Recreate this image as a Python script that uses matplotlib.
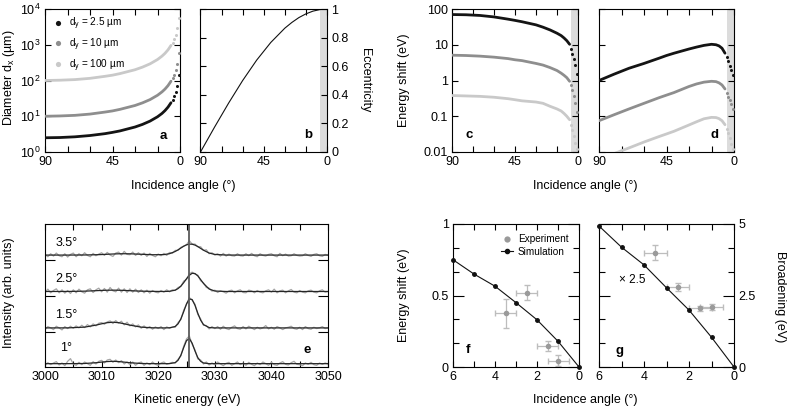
import numpy as np
import matplotlib
matplotlib.use('Agg')
import matplotlib.pyplot as plt
from matplotlib.lines import Line2D
from matplotlib.ticker import MultipleLocator, NullLocator, NullFormatter

plt.rcParams['font.family'] = ['Liberation Sans', 'DejaVu Sans']
plt.rcParams['font.size'] = 9
plt.rcParams['mathtext.fontset'] = 'custom'
plt.rcParams['mathtext.rm'] = 'Liberation Sans'
plt.rcParams['mathtext.it'] = 'Liberation Sans:italic'
plt.rcParams['axes.linewidth'] = 0.8

# ---- panel a-d: angle dependence (dense part + sparse dots near grazing) ----
ANG_DENSE = [90, 80, 70, 60, 50, 45, 40, 30, 25, 20, 15, 12, 10, 8, 6]
ANG_SPARSE = [5, 4, 3, 2, 1]

# a: diameter d_x (um)
DX_25 = [2.5, 2.54, 2.66, 2.89, 3.26, 3.54, 3.89, 5.0, 5.92, 7.31, 9.66, 12.0, 14.4, 18.0, 23.9]
DX_25_END = [28.7, 35.8, 47.8, 71.6, 143]
DX_10 = [10, 10.2, 10.6, 11.5, 13.1, 14.1, 15.6, 20, 23.7, 29.2, 38.6, 48.1, 57.6, 71.9, 95.7]
DX_10_END = [115, 143, 191, 287, 573]
DX_100 = [100, 102, 106, 115, 131, 141, 156, 200, 237, 292, 386, 481, 576, 719, 957]
DX_100_END = [1150, 1430, 1910, 2870, 5730]

# b: eccentricity
ECC_ANG = [90, 80, 70, 60, 50, 40, 30, 25, 20, 15, 10, 5, 0]
ECC = [0, 0.174, 0.342, 0.5, 0.643, 0.766, 0.866, 0.906, 0.94, 0.966, 0.985, 0.996, 1.0]

# c: energy shift (eV)
C_25 = [70, 69, 66, 60, 52, 48, 44, 36, 31, 26, 21, 18, 15.5, 13, 10.3]
C_25_END = [7.5, 5.5, 4.0, 2.8, 1.5]
C_10 = [5.1, 5.0, 4.8, 4.5, 4.1, 3.8, 3.6, 3.0, 2.7, 2.3, 1.9, 1.6, 1.4, 1.2, 0.95]
C_10_END = [0.75, 0.55, 0.38, 0.24, 0.13]
C_100 = [0.38, 0.37, 0.36, 0.34, 0.31, 0.29, 0.27, 0.25, 0.23, 0.19, 0.16, 0.14, 0.12, 0.10, 0.08]
C_100_END = [0.058, 0.04, 0.028, 0.018, 0.012]

# d: energy shift (eV), second case
D_25 = [1.0, 1.5, 2.2, 3.0, 4.2, 5.0, 5.8, 7.6, 8.6, 9.6, 10.3, 10.0, 9.3, 8.0, 5.8]
D_25_END = [4.5, 3.5, 2.6, 2.0, 1.4]
D_10 = [0.075, 0.11, 0.16, 0.23, 0.33, 0.39, 0.46, 0.68, 0.80, 0.90, 0.95, 0.93, 0.86, 0.75, 0.58]
D_10_END = [0.45, 0.35, 0.28, 0.22, 0.16]
D_100 = [0.006, 0.009, 0.013, 0.019, 0.027, 0.032, 0.038, 0.057, 0.07, 0.085, 0.093, 0.092, 0.086, 0.075, 0.058]
D_100_END = [0.045, 0.033, 0.024, 0.017, 0.012]

SERIES_LABELS = ['d$_\\mathrm{y}$ = 2.5 µm', 'd$_\\mathrm{y}$ = 10 µm', 'd$_\\mathrm{y}$ = 100 µm']
COLORS = ['#141414', '#8e8e8e', '#c9c9c9']
SHADE_MAX = 4.7

# ---- panel e: spectra (0.5 eV steps) ----
E_DATA = np.arange(3000, 3050.01, 0.5)
SPEC_1 = [0.07, 0.15, 0.09, 0.14, 0.18, 0.08, 0.14, 0.06, 0.19, 0.27,
          0.11, 0.07, 0.16, 0.09, 0.17, 0.12, 0.07, 0.18, 0.11, 0.19,
          0.22, 0.14, 0.23, 0.25, 0.16, 0.23, 0.15, 0.21, 0.11, 0.17,
          0.09, 0.17, 0.07, 0.14, 0.17, 0.07, 0.14, 0.09, 0.17, 0.10,
          0.07, 0.14, 0.17, 0.10, 0.13, 0.16, 0.14, 0.25, 0.35, 0.64,
          0.86, 0.95, 0.70, 0.53, 0.26, 0.23, 0.11, 0.17, 0.08, 0.14,
          0.09, 0.17, 0.11, 0.06, 0.13, 0.16, 0.07, 0.12, 0.17, 0.09,
          0.14, 0.07, 0.16, 0.10, 0.06, 0.14, 0.09, 0.17, 0.12, 0.07,
          0.16, 0.09, 0.07, 0.14, 0.18, 0.10, 0.08, 0.15, 0.19, 0.10,
          0.09, 0.06, 0.14, 0.10, 0.16, 0.09, 0.07, 0.14, 0.10, 0.14,
          0.11]
SPEC_15 = [0.07, 0.16, 0.12, 0.07, 0.17, 0.12, 0.06, 0.16, 0.10, 0.17,
           0.11, 0.18, 0.12, 0.20, 0.13, 0.22, 0.15, 0.24, 0.18, 0.26,
           0.28, 0.23, 0.30, 0.33, 0.25, 0.34, 0.26, 0.32, 0.21, 0.29,
           0.18, 0.24, 0.15, 0.21, 0.11, 0.18, 0.10, 0.16, 0.08, 0.15,
           0.10, 0.16, 0.07, 0.15, 0.11, 0.14, 0.14, 0.28, 0.37, 0.65,
           0.82, 1.03, 0.95, 0.83, 0.52, 0.39, 0.20, 0.19, 0.09, 0.16,
           0.10, 0.16, 0.08, 0.17, 0.10, 0.07, 0.14, 0.18, 0.10, 0.08,
           0.16, 0.09, 0.17, 0.12, 0.07, 0.14, 0.09, 0.12, 0.19, 0.09,
           0.14, 0.08, 0.16, 0.12, 0.07, 0.12, 0.14, 0.17, 0.10, 0.08,
           0.14, 0.07, 0.16, 0.10, 0.08, 0.14, 0.10, 0.12, 0.16, 0.10,
           0.12]
SPEC_25 = [0.11, 0.21, 0.10, 0.17, 0.22, 0.10, 0.19, 0.09, 0.17, 0.08,
           0.19, 0.10, 0.21, 0.13, 0.09, 0.19, 0.22, 0.11, 0.19, 0.24,
           0.13, 0.23, 0.12, 0.26, 0.16, 0.13, 0.24, 0.12, 0.22, 0.11,
           0.22, 0.12, 0.21, 0.11, 0.19, 0.10, 0.18, 0.09, 0.17, 0.12,
           0.10, 0.17, 0.12, 0.19, 0.13, 0.19, 0.17, 0.26, 0.29, 0.45,
           0.50, 0.67, 0.72, 0.66, 0.63, 0.46, 0.40, 0.26, 0.24, 0.15,
           0.18, 0.11, 0.16, 0.13, 0.09, 0.16, 0.18, 0.10, 0.16, 0.19,
           0.11, 0.10, 0.18, 0.16, 0.10, 0.17, 0.12, 0.10, 0.16, 0.19,
           0.12, 0.21, 0.10, 0.16, 0.18, 0.10, 0.16, 0.20, 0.12, 0.10,
           0.17, 0.12, 0.10, 0.16, 0.18, 0.12, 0.10, 0.16, 0.19, 0.12,
           0.14]
SPEC_35 = [0.17, 0.10, 0.19, 0.12, 0.21, 0.13, 0.10, 0.19, 0.09, 0.17,
           0.21, 0.10, 0.19, 0.13, 0.22, 0.14, 0.10, 0.20, 0.13, 0.18,
           0.22, 0.14, 0.23, 0.15, 0.11, 0.21, 0.24, 0.15, 0.26, 0.17,
           0.16, 0.24, 0.14, 0.22, 0.14, 0.21, 0.11, 0.20, 0.14, 0.10,
           0.18, 0.13, 0.20, 0.14, 0.23, 0.20, 0.29, 0.29, 0.38, 0.42,
           0.46, 0.58, 0.48, 0.48, 0.40, 0.40, 0.29, 0.31, 0.19, 0.22,
           0.15, 0.19, 0.12, 0.20, 0.12, 0.18, 0.13, 0.12, 0.19, 0.13,
           0.12, 0.19, 0.13, 0.20, 0.13, 0.10, 0.19, 0.14, 0.12, 0.17,
           0.19, 0.13, 0.10, 0.20, 0.13, 0.18, 0.12, 0.13, 0.19, 0.14,
           0.12, 0.13, 0.19, 0.14, 0.11, 0.17, 0.19, 0.13, 0.11, 0.17,
           0.15]

E_FIT = [3000, 3004, 3007, 3009, 3010, 3011, 3012, 3013, 3014, 3015, 3017, 3019, 3021, 3022,
         3023, 3023.5, 3024, 3024.5, 3025, 3025.5, 3026, 3026.5, 3027, 3027.5, 3028, 3029,
         3030, 3032, 3036, 3050]
FIT_1 = [0.12, 0.12, 0.125, 0.148, 0.166, 0.183, 0.19, 0.183, 0.166, 0.148, 0.125, 0.12, 0.12, 0.121,
         0.15, 0.22, 0.37, 0.60, 0.81, 0.87, 0.73, 0.50, 0.30, 0.19, 0.14, 0.12,
         0.12, 0.12, 0.12, 0.12]
FIT_15 = [0.12, 0.121, 0.143, 0.203, 0.243, 0.277, 0.29, 0.277, 0.243, 0.203, 0.143, 0.123, 0.12, 0.123,
          0.163, 0.24, 0.387, 0.605, 0.839, 0.986, 0.968, 0.796, 0.558, 0.351, 0.219, 0.13,
          0.12, 0.12, 0.12, 0.12]
FIT_25 = [0.14, 0.141, 0.15, 0.164, 0.172, 0.178, 0.18, 0.178, 0.172, 0.164, 0.15, 0.143, 0.14, 0.146,
          0.18, 0.226, 0.30, 0.403, 0.521, 0.625, 0.685, 0.677, 0.607, 0.497, 0.381, 0.214,
          0.154, 0.14, 0.14, 0.14]
FIT_35 = [0.15, 0.15, 0.153, 0.16, 0.166, 0.174, 0.182, 0.188, 0.19, 0.188, 0.174, 0.16, 0.164, 0.191,
          0.257, 0.306, 0.361, 0.414, 0.456, 0.478, 0.475, 0.449, 0.404, 0.35, 0.296, 0.211,
          0.169, 0.151, 0.15, 0.15]
SPEC_LABELS = ['1°', '1.5°', '2.5°', '3.5°']
OFFSETS = [-0.02, 1.05, 2.12, 3.2]
PEAK_E = 3025.4

# ---- panels f, g ----
SIM_ANG = [6, 5, 4, 3, 2, 1, 0]
SIM_SHIFT = [0.75, 0.65, 0.565, 0.45, 0.33, 0.18, 0.0]
SIM_BROAD = [4.93, 4.19, 3.57, 2.77, 1.99, 1.04, 0.0]
EXP_ANG = [3.5, 2.5, 1.5, 1.0]
EXP_ANG_ERR = [0.5, 0.5, 0.5, 0.5]
EXP_SHIFT = [0.375, 0.52, 0.147, 0.045]
EXP_SHIFT_ERR = [0.1, 0.05, 0.035, 0.04]
EXP_BROAD = [4.0, 2.81, 2.05, 2.09]
EXP_BROAD_ERR = [0.27, 0.14, 0.08, 0.1]

EXP_COLOR = '#9a9a9a'
EXP_ECOLOR = '#bdbdbd'


def style(ax):
    ax.tick_params(which='both', direction='in', top=True, right=True,
                   length=4, width=0.8, labelsize=9, pad=3)


def angle_axis(ax):
    ax.set_xlim(90, 0)
    ax.set_xticks([90, 45, 0])
    ax.xaxis.set_minor_locator(MultipleLocator(15))


def angle_series(ax, dense, sparse, color, label=None):
    ax.plot(ANG_DENSE, dense, '-', color=color, lw=2.0, solid_capstyle='round', zorder=3)
    ax.plot(ANG_SPARSE, sparse, 'o', color=color, ms=2.2, mec='none', zorder=3,
            label=label, clip_on=False)


fig = plt.figure(figsize=(7.87, 4.07), dpi=100)
W, H = 787.0, 407.0


def add_ax(x0, x1, y0, y1):
    return fig.add_axes([x0 / W, 1 - y1 / H, (x1 - x0) / W, (y1 - y0) / H])


def panel_label(ax, x, y, s):
    ax.text(x, y, s, transform=ax.transAxes, ha='center', va='center',
            fontweight='bold', fontsize=9.5)


# a
ax_a = add_ax(45, 180, 9, 152)
style(ax_a)
for dense, sparse, col, lab in zip([DX_25, DX_10, DX_100], [DX_25_END, DX_10_END, DX_100_END],
                                   COLORS, SERIES_LABELS):
    angle_series(ax_a, dense, sparse, col, lab)
ax_a.set_yscale('log')
ax_a.set_ylim(1, 1e4)
ax_a.set_yticks([1, 10, 100, 1000, 10000])
ax_a.yaxis.set_minor_locator(NullLocator())
angle_axis(ax_a)
ax_a.legend(loc='upper left', bbox_to_anchor=(0.075, 0.955), frameon=False, fontsize=7.2,
            markerscale=1.7, handlelength=0.6, handletextpad=0.8, labelspacing=0.45,
            borderaxespad=0, borderpad=0)
panel_label(ax_a, 0.875, 0.11, 'a')

# b
ax_b = add_ax(200.5, 327, 9, 152)
style(ax_b)
ax_b.axvspan(0, SHADE_MAX, color='#dcdcdc', lw=0, zorder=0)
ax_b.plot(ECC_ANG, ECC, color='#111111', lw=0.8)
ax_b.set_ylim(0, 1)
ax_b.set_yticks([0, 0.2, 0.4, 0.6, 0.8, 1])
ax_b.set_yticklabels(['0', '0.2', '0.4', '0.6', '0.8', '1'])
ax_b.tick_params(labelleft=False, labelright=True)
angle_axis(ax_b)
panel_label(ax_b, 0.85, 0.12, 'b')

# c
ax_c = add_ax(452, 578, 9, 152)
style(ax_c)
ax_c.axvspan(0, SHADE_MAX, color='#dcdcdc', lw=0, zorder=0)
for dense, sparse, col in zip([C_25, C_10, C_100], [C_25_END, C_10_END, C_100_END], COLORS):
    angle_series(ax_c, dense, sparse, col)
ax_c.set_yscale('log')
ax_c.set_ylim(0.01, 100)
ax_c.set_yticks([0.01, 0.1, 1, 10, 100])
ax_c.set_yticklabels(['0.01', '0.1', '1', '10', '100'])
ax_c.yaxis.set_minor_locator(NullLocator())
angle_axis(ax_c)
panel_label(ax_c, 0.135, 0.12, 'c')

# d
ax_d = add_ax(599, 734, 9, 152)
style(ax_d)
ax_d.axvspan(0, SHADE_MAX, color='#dcdcdc', lw=0, zorder=0)
for dense, sparse, col in zip([D_25, D_10, D_100], [D_25_END, D_10_END, D_100_END], COLORS):
    angle_series(ax_d, dense, sparse, col)
ax_d.set_yscale('log')
ax_d.set_ylim(0.01, 100)
ax_d.set_yticks([0.01, 0.1, 1, 10, 100])
ax_d.yaxis.set_minor_locator(NullLocator())
ax_d.yaxis.set_major_formatter(NullFormatter())
angle_axis(ax_d)
panel_label(ax_d, 0.852, 0.12, 'd')

# e
ax_e = add_ax(45, 328, 224, 367)
style(ax_e)
for spec, fit, off in zip([SPEC_1, SPEC_15, SPEC_25, SPEC_35],
                          [FIT_1, FIT_15, FIT_25, FIT_35], OFFSETS):
    ax_e.plot(E_DATA, np.array(spec) + off, color='#a6a6a6', lw=0.9)
    ax_e.plot(E_FIT, np.array(fit) + off, color='#262626', lw=0.9)
ax_e.axvline(PEAK_E, color='#5a5a5a', lw=1.3)
ax_e.set_xlim(3000, 3050)
ax_e.set_ylim(0, 4.28)
ax_e.set_xticks(np.arange(3000, 3051, 10))
ax_e.xaxis.set_minor_locator(MultipleLocator(5))
ax_e.set_yticks(OFFSETS[1:])
ax_e.yaxis.set_major_formatter(NullFormatter())
ax_e.tick_params(axis='y', length=7)
for lab, x, y in zip(SPEC_LABELS, [3002.6, 3001.8, 3001.8, 3001.8], [0.56, 1.56, 2.62, 3.72]):
    ax_e.text(x, y, lab, ha='left', va='center', fontsize=9)
panel_label(ax_e, 0.926, 0.12, 'e')

# f
ax_f = add_ax(453, 579, 224, 367)
style(ax_f)
ax_f.errorbar(EXP_ANG, EXP_SHIFT, xerr=EXP_ANG_ERR, yerr=EXP_SHIFT_ERR, fmt='o', color=EXP_COLOR,
              ecolor=EXP_ECOLOR, elinewidth=0.9, capsize=2.5, ms=4, mec='none')
ax_f.plot(SIM_ANG, SIM_SHIFT, '-o', color='#111111', lw=0.8, ms=2.5, clip_on=False, zorder=4)
ax_f.set_xlim(6, 0)
ax_f.set_ylim(0, 1)
ax_f.set_xticks([6, 4, 2, 0])
ax_f.xaxis.set_minor_locator(MultipleLocator(1))
ax_f.set_yticks([0, 0.5, 1])
ax_f.set_yticklabels(['0', '0.5', '1'])
ax_f.set_yticks(np.arange(0, 1.01, 1 / 6), minor=True)
ax_f.tick_params(axis='y', which='major', length=8)
handles = [Line2D([], [], ls='none', marker='o', ms=4.5, color=EXP_COLOR, mec='none'),
           Line2D([], [], ls='-', marker='o', ms=3, lw=0.8, color='#111111')]
ax_f.legend(handles, ['Experiment', 'Simulation'], loc='upper left', bbox_to_anchor=(0.38, 0.93),
            frameon=False, fontsize=7.2, handlelength=1.2, handletextpad=0.5,
            labelspacing=0.25, borderpad=0, borderaxespad=0)
panel_label(ax_f, 0.12, 0.12, 'f')

# g
ax_g = add_ax(599, 734, 224, 367)
style(ax_g)
ax_g.errorbar(EXP_ANG, EXP_BROAD, xerr=EXP_ANG_ERR, yerr=EXP_BROAD_ERR, fmt='o', color=EXP_COLOR,
              ecolor=EXP_ECOLOR, elinewidth=0.9, capsize=2.5, ms=4, mec='none')
ax_g.plot(SIM_ANG, SIM_BROAD, '-o', color='#111111', lw=0.8, ms=2.5, clip_on=False, zorder=4)
ax_g.set_xlim(6, 0)
ax_g.set_ylim(0, 5)
ax_g.set_xticks([6, 4, 2, 0])
ax_g.xaxis.set_minor_locator(MultipleLocator(1))
ax_g.set_yticks([0, 2.5, 5])
ax_g.set_yticklabels(['0', '2.5', '5'])
ax_g.set_yticks(np.arange(0, 5.01, 5 / 6), minor=True)
ax_g.tick_params(axis='y', which='major', length=8)
ax_g.tick_params(labelleft=False, labelright=True)
ax_g.text(5.1, 3.05, '× 2.5', ha='left', va='center', fontsize=8.5)
panel_label(ax_g, 0.15, 0.11, 'g')

# axis titles
fig.text(183 / W, 1 - 186 / H, 'Incidence angle (°)', ha='center', va='center', fontsize=9)
fig.text(585 / W, 1 - 186 / H, 'Incidence angle (°)', ha='center', va='center', fontsize=9)
fig.text(187 / W, 1 - 400 / H, 'Kinetic energy (eV)', ha='center', va='center', fontsize=9)
fig.text(585 / W, 1 - 400 / H, 'Incidence angle (°)', ha='center', va='center', fontsize=9)
fig.text(9 / W, 1 - 78 / H, 'Diameter d$_\\mathrm{x}$ (µm)', ha='center', va='center',
         rotation=90, fontsize=9)
fig.text(365 / W, 1 - 80 / H, 'Eccentricity', ha='center', va='center', rotation=270, fontsize=9)
fig.text(404 / W, 1 - 80 / H, 'Energy shift (eV)', ha='center', va='center', rotation=90, fontsize=9)
fig.text(9 / W, 1 - 293 / H, 'Intensity (arb. units)', ha='center', va='center', rotation=90,
         fontsize=9)
fig.text(404 / W, 1 - 295 / H, 'Energy shift (eV)', ha='center', va='center', rotation=90, fontsize=9)
fig.text(780 / W, 1 - 297 / H, 'Broadening (eV)', ha='center', va='center', rotation=270, fontsize=9)

fig.savefig('out.png', dpi=100)
